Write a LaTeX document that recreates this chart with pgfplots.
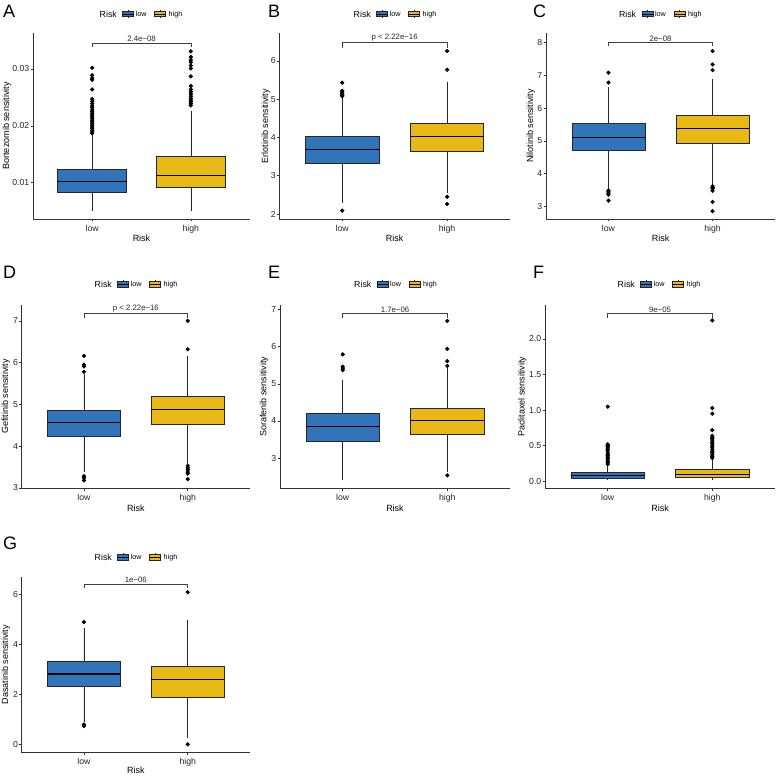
\documentclass[border=0pt]{standalone}
\usepackage{fontspec}
\setmainfont{Liberation Sans}
\usepackage{pgfplots}
\pgfplotsset{compat=1.18}
\usepgfplotslibrary{statistics}
\definecolor{lowc}{RGB}{49,116,186}
\definecolor{highc}{RGB}{232,185,20}
\newcommand\ticfont{\fontsize{8.7}{10}\selectfont}
\newcommand\labfont{\fontsize{9}{10}\selectfont}
\newcommand\legfont{\fontsize{7.2}{8}\selectfont}
\newcommand\legtitlefont{\fontsize{8.8}{10}\selectfont}
\newcommand\brfont{\fontsize{7.8}{9}\selectfont}
\newcommand\panelfont{\fontsize{18}{20}\selectfont}
\pgfplotsset{
  panel/.style={scale only axis, axis lines*=left, xmin=0.4, xmax=2.6,
    xtick={1,2}, xticklabels={low,high}, tick align=outside,
    major tick length=2.5pt, scaled y ticks=false,
    axis line style={black!80, line width=0.6pt},
    tick style={black!80, line width=0.5pt},
    ticklabel style={font=\ticfont, text=black!85},
    yticklabel style={inner sep=0pt, xshift=-1pt},
    xlabel={Risk}, label style={font=\labfont},
    clip=false,
    boxplot/draw direction=y,
    boxplot/box extend=0.7, boxplot/whisker extend=0,
    boxplot/every median/.style={line width=1.3pt, black}},
  ylx/.style={ylabel style={at={(axis description cs:#1,0.5)}, anchor=center}},
  xly/.style={xlabel style={at={(axis description cs:0.5,#1)}, anchor=center}},
  lowbox/.style={fill=lowc, draw=black!85, line width=0.6pt, mark=*, mark size=1.8pt, mark options={fill=black, draw=black}},
  highbox/.style={fill=highc, draw=black!85, line width=0.6pt, mark=*, mark size=1.8pt, mark options={fill=black, draw=black}},
  bracket/.style={black!75, line width=0.5pt, mark=none},
}
\newcommand{\legkey}[2]{%
  \draw[black!85, line width=0.4pt] (#1,-4) -- (#1,4);
  \draw[black!85, line width=0.4pt, fill=#2] (#1-5.5,-2.6) rectangle (#1+5.5,2.6);
  \draw[black, line width=0.8pt] (#1-5.5,0) -- (#1+5.5,0);}
\newcommand{\risklegend}[2]{%
  \begin{scope}[shift={(#1pt,#2pt)}, x=1pt, y=1pt]
  \node[anchor=base west, inner sep=0pt, font=\legtitlefont] at (-42,-3.2) {Risk};
  \legkey{-13.5}{lowc}
  \node[anchor=base west, inner sep=0pt, font=\legfont] at (-6,-2.6) {low};
  \legkey{18.5}{highc}
  \node[anchor=base west, inner sep=0pt, font=\legfont] at (27,-2.6) {high};
  \end{scope}}
\begin{document}
\begin{tikzpicture}
\useasboundingbox (0,0) rectangle (777pt,777pt);
% ---------------- A
\begin{axis}[panel, at={(33pt,558pt)}, width=217pt, height=186pt, ylx=-0.1212, xly=-0.1059,
  ymin=0.00361, ymax=0.03633, ytick={0.01,0.02,0.03}, yticklabels={0.01,0.02,0.03},
  ylabel={Bortezomib sensitivity}]
\addplot[lowbox, boxplot prepared={draw position=1, lower whisker=0.005, lower quartile=0.00825, median=0.0102, upper quartile=0.0123, upper whisker=0.0185}]
 coordinates {(1,0.0302) (1,0.0289) (1,0.0284) (1,0.0281) (1,0.0264) (1,0.0247) (1,0.0243) (1,0.0239) (1,0.0235) (1,0.0232) (1,0.0228) (1,0.0225) (1,0.0222) (1,0.0219) (1,0.0216) (1,0.0213) (1,0.0210) (1,0.0207) (1,0.0204) (1,0.0201) (1,0.0198) (1,0.0195) (1,0.0192) (1,0.0189) (1,0.0187)};
\addplot[highbox, boxplot prepared={draw position=2, lower whisker=0.005, lower quartile=0.0092, median=0.0113, upper quartile=0.0146, upper whisker=0.0226}]
 coordinates {(2,0.0331) (2,0.0321) (2,0.0316) (2,0.0312) (2,0.0306) (2,0.0301) (2,0.0287) (2,0.0270) (2,0.0264) (2,0.0260) (2,0.0256) (2,0.0252) (2,0.0248) (2,0.0245) (2,0.0242) (2,0.0239) (2,0.0236)};
\addplot[bracket] coordinates {(1,0.0339) (1,0.0346) (2,0.0346) (2,0.0339)};
\node[anchor=south, font=\brfont, inner sep=1pt, text=black!85] at (axis cs:1.5,0.0346) {2.4e−08};
\end{axis}
% ---------------- B
\begin{axis}[panel, at={(279.3pt,558pt)}, width=230.7pt, height=186pt, ylx=-0.0585, xly=-0.1059,
  ymin=1.87, ymax=6.73, ytick={2,3,4,5,6}, yticklabels={2,3,4,5,6},
  ylabel={Erlotinib sensitivity}]
\addplot[lowbox, boxplot prepared={draw position=1, lower whisker=2.30, lower quartile=3.32, median=3.69, upper quartile=4.03, upper whisker=5.04}]
 coordinates {(1,2.09) (1,5.43) (1,5.22) (1,5.19) (1,5.16) (1,5.13) (1,5.10) (1,5.08)};
\addplot[highbox, boxplot prepared={draw position=2, lower whisker=2.55, lower quartile=3.65, median=4.03, upper quartile=4.38, upper whisker=5.46}]
 coordinates {(2,2.45) (2,2.26) (2,5.77) (2,6.26)};
\addplot[bracket] coordinates {(1,6.35) (1,6.48) (2,6.48) (2,6.35)};
\node[anchor=south, font=\brfont, inner sep=1pt, text=black!85] at (axis cs:1.5,6.48) {p < 2.22e−16};
\end{axis}
% ---------------- C
\begin{axis}[panel, at={(546pt,558pt)}, width=229pt, height=186pt, ylx=-0.0665, xly=-0.1059,
  ymin=2.62, ymax=8.29, ytick={3,4,5,6,7,8}, yticklabels={3,4,5,6,7,8},
  ylabel={Nilotinib sensitivity}]
\addplot[lowbox, boxplot prepared={draw position=1, lower whisker=3.52, lower quartile=4.71, median=5.11, upper quartile=5.54, upper whisker=6.64}]
 coordinates {(1,3.49) (1,3.45) (1,3.41) (1,3.36) (1,3.18) (1,6.78) (1,7.08)};
\addplot[highbox, boxplot prepared={draw position=2, lower whisker=3.66, lower quartile=4.92, median=5.38, upper quartile=5.78, upper whisker=6.89}]
 coordinates {(2,3.62) (2,3.58) (2,3.55) (2,3.48) (2,3.14) (2,2.86) (2,7.16) (2,7.33) (2,7.74)};
\addplot[bracket] coordinates {(1,7.88) (1,8.00) (2,8.00) (2,7.88)};
\node[anchor=south, font=\brfont, inner sep=1pt, text=black!85] at (axis cs:1.5,8.00) {2e−08};
\end{axis}
% ---------------- D
\begin{axis}[panel, at={(21.7pt,288.7pt)}, width=228.3pt, height=183.3pt, ylx=-0.0700, xly=-0.1075,
  ymin=2.99, ymax=7.38, ytick={3,4,5,6,7}, yticklabels={3,4,5,6,7},
  ylabel={Gefitinib sensitivity}]
\addplot[lowbox, boxplot prepared={draw position=1, lower whisker=3.38, lower quartile=4.24, median=4.57, upper quartile=4.86, upper whisker=5.72}]
 coordinates {(1,3.28) (1,3.24) (1,3.18) (1,5.78) (1,5.91) (1,5.95) (1,6.16)};
\addplot[highbox, boxplot prepared={draw position=2, lower whisker=3.58, lower quartile=4.53, median=4.87, upper quartile=5.19, upper whisker=6.17}]
 coordinates {(2,3.53) (2,3.48) (2,3.43) (2,3.38) (2,3.34) (2,3.21) (2,6.32) (2,7.00)};
\addplot[bracket] coordinates {(1,7.08) (1,7.18) (2,7.18) (2,7.08)};
\node[anchor=south, font=\brfont, inner sep=1pt, text=black!85] at (axis cs:1.5,7.18) {p < 2.22e−16};
\end{axis}
% ---------------- E
\begin{axis}[panel, at={(280pt,288.7pt)}, width=230pt, height=183.3pt, ylx=-0.0690, xly=-0.1075,
  ymin=2.19, ymax=7.12, ytick={3,4,5,6,7}, yticklabels={3,4,5,6,7},
  ylabel={Sorafenib sensitivity}]
\addplot[lowbox, boxplot prepared={draw position=1, lower whisker=2.40, lower quartile=3.45, median=3.85, upper quartile=4.20, upper whisker=5.10}]
 coordinates {(1,5.37) (1,5.42) (1,5.46) (1,5.79)};
\addplot[highbox, boxplot prepared={draw position=2, lower whisker=2.64, lower quartile=3.64, median=4.02, upper quartile=4.35, upper whisker=5.46}]
 coordinates {(2,2.54) (2,5.48) (2,5.61) (2,5.94) (2,6.69)};
\addplot[bracket] coordinates {(1,6.78) (1,6.89) (2,6.89) (2,6.78)};
\node[anchor=south, font=\brfont, inner sep=1pt, text=black!85] at (axis cs:1.5,6.89) {1.7e−06};
\end{axis}
% ---------------- F
\begin{axis}[panel, at={(545pt,288.7pt)}, width=230pt, height=183.3pt, ylx=-0.0990, xly=-0.1075,
  ymin=-0.098, ymax=2.477, ytick={0,0.5,1,1.5,2}, yticklabels={0.0,0.5,1.0,1.5,2.0},
  ylabel={Paclitaxel sensitivity}]
\addplot[lowbox, boxplot prepared={draw position=1, lower whisker=0.02, lower quartile=0.047, median=0.084, upper quartile=0.12, upper whisker=0.23}]
 coordinates {(1,0.24) (1,0.26) (1,0.28) (1,0.30) (1,0.32) (1,0.34) (1,0.36) (1,0.38) (1,0.40) (1,0.43) (1,0.45) (1,0.47) (1,0.49) (1,0.50) (1,0.52) (1,1.05)};
\addplot[highbox, boxplot prepared={draw position=2, lower whisker=0.02, lower quartile=0.06, median=0.10, upper quartile=0.164, upper whisker=0.31}]
 coordinates {(2,0.33) (2,0.35) (2,0.37) (2,0.40) (2,0.42) (2,0.45) (2,0.48) (2,0.50) (2,0.53) (2,0.55) (2,0.58) (2,0.60) (2,0.62) (2,0.64) (2,0.72) (2,0.95) (2,1.03) (2,2.26)};
\addplot[bracket] coordinates {(1,2.30) (1,2.36) (2,2.36) (2,2.30)};
\node[anchor=south, font=\brfont, inner sep=1pt, text=black!85] at (axis cs:1.5,2.36) {9e−05};
\end{axis}
% ---------------- G
\begin{axis}[panel, at={(21.7pt,24.5pt)}, width=228.3pt, height=175.8pt, ylx=-0.0700, xly=-0.0985,
  ymin=-0.318, ymax=6.70, ytick={0,2,4,6}, yticklabels={0,2,4,6},
  ylabel={Dasatinib sensitivity}]
\addplot[lowbox, boxplot prepared={draw position=1, lower whisker=0.88, lower quartile=2.32, median=2.82, upper quartile=3.31, upper whisker=4.65}]
 coordinates {(1,0.80) (1,0.74) (1,4.89)};
\addplot[highbox, boxplot prepared={draw position=2, lower whisker=0.28, lower quartile=1.89, median=2.61, upper quartile=3.13, upper whisker=4.98}]
 coordinates {(2,0.01) (2,6.08)};
\addplot[bracket] coordinates {(1,6.24) (1,6.41) (2,6.41) (2,6.24)};
\node[anchor=south, font=\brfont, inner sep=1pt, text=black!85] at (axis cs:1.5,6.41) {1e−06};
\end{axis}
% legends
\risklegend{141.5}{763}
\risklegend{395.5}{763}
\risklegend{660.8}{763}
\risklegend{136.5}{492.7}
\risklegend{396}{492.7}
\risklegend{659.5}{492.7}
\risklegend{136.5}{219.7}
% panel letters
\node[anchor=north west, inner sep=0pt, font=\panelfont] at (3pt,772pt) {A};
\node[anchor=north west, inner sep=0pt, font=\panelfont] at (268pt,772pt) {B};
\node[anchor=north west, inner sep=0pt, font=\panelfont] at (533pt,772pt) {C};
\node[anchor=north west, inner sep=0pt, font=\panelfont] at (3pt,511pt) {D};
\node[anchor=north west, inner sep=0pt, font=\panelfont] at (268pt,511pt) {E};
\node[anchor=north west, inner sep=0pt, font=\panelfont] at (533pt,511pt) {F};
\node[anchor=north west, inner sep=0pt, font=\panelfont] at (3pt,240pt) {G};
\end{tikzpicture}
\end{document}
